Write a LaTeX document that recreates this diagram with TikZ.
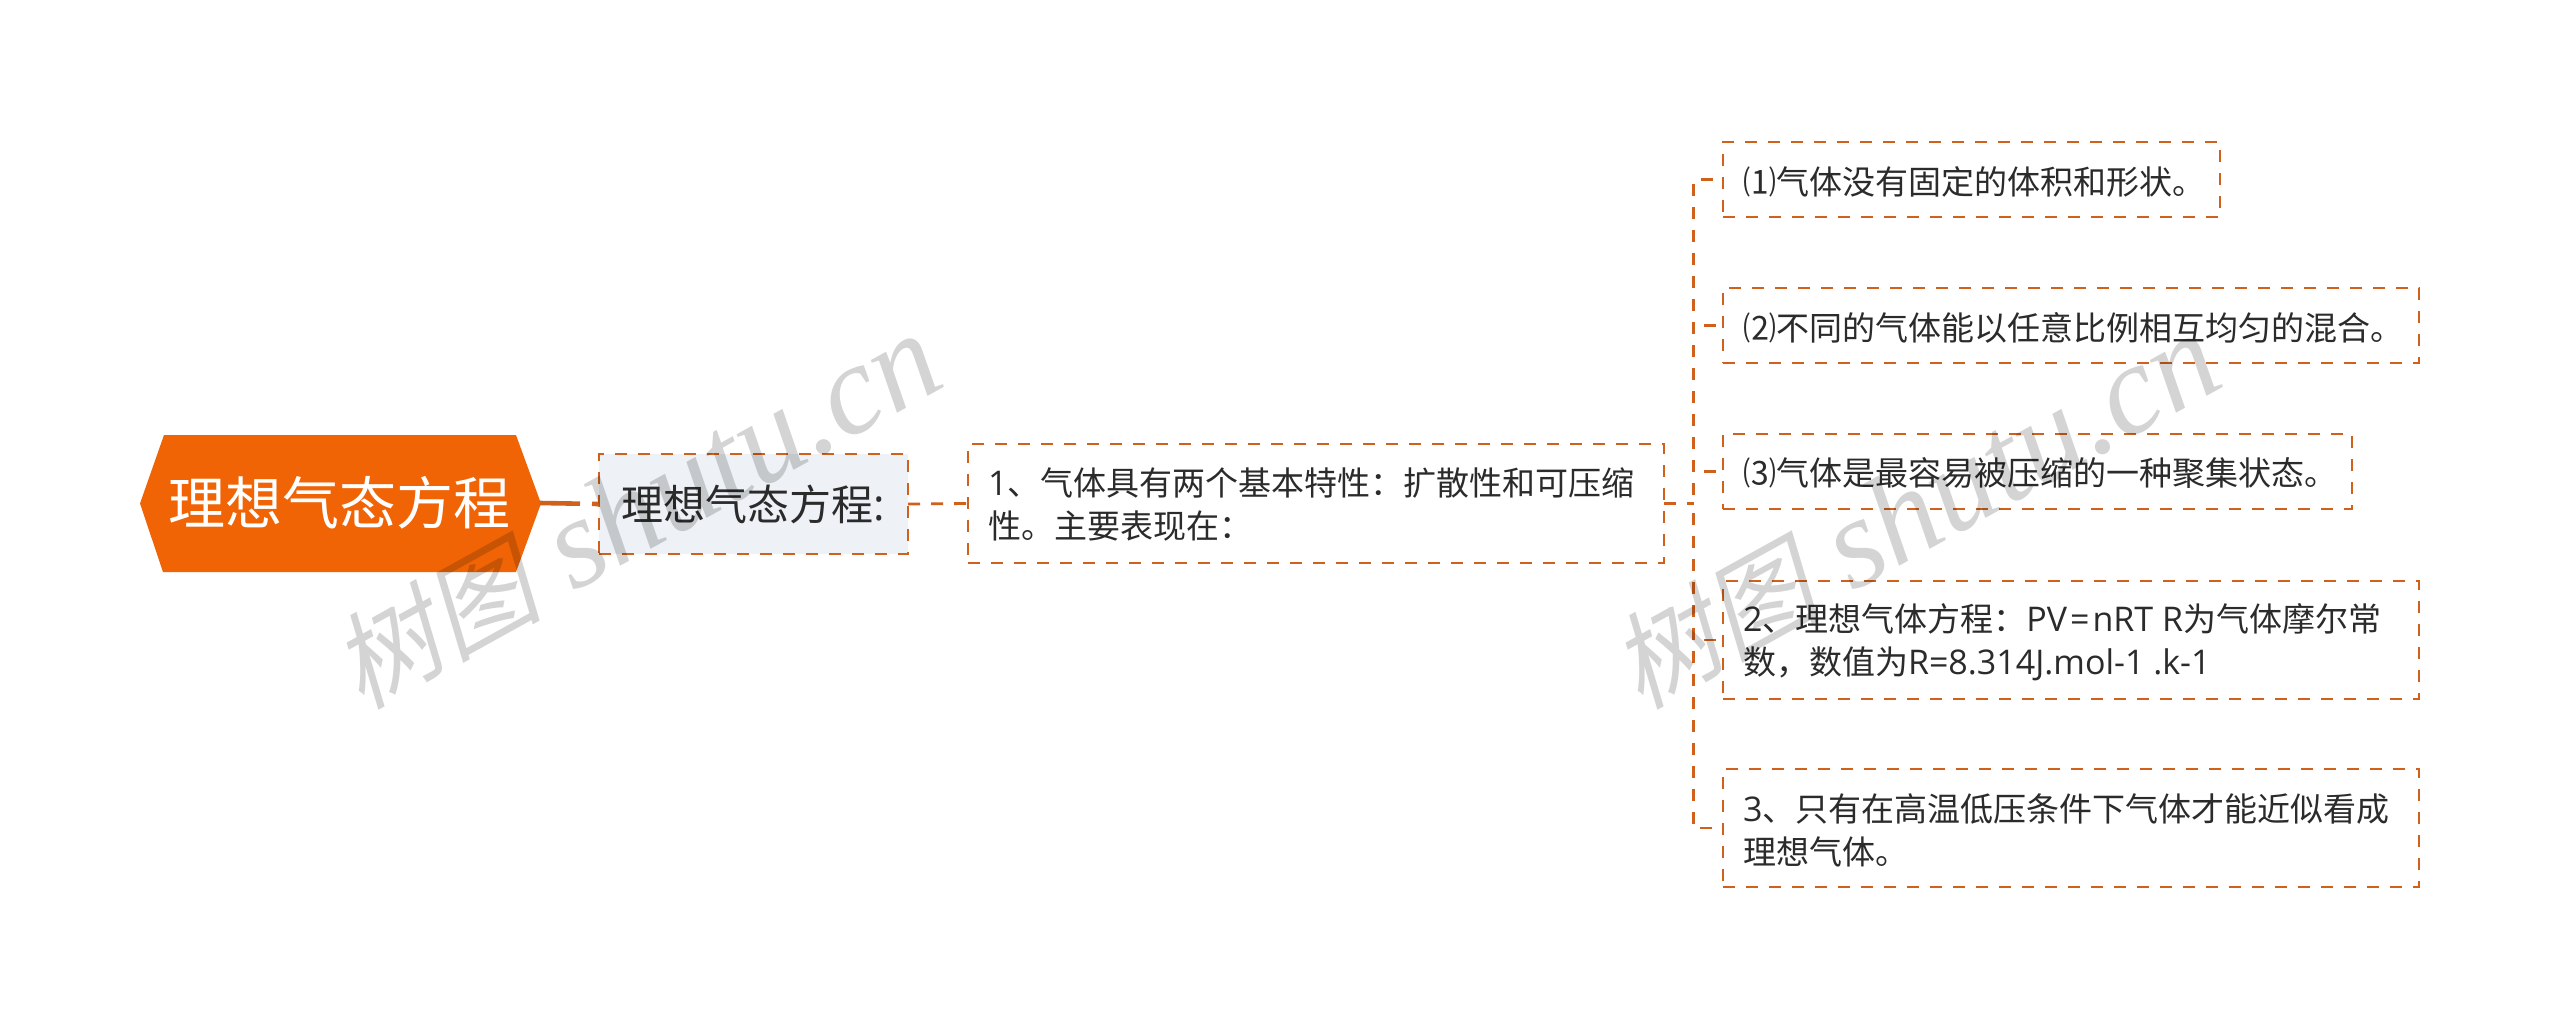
\documentclass[tikz,border=0pt]{standalone}
\usepackage{fontspec}
\setmainfont{Open Sans}[Scale=1.03]
\newfontfamily\zhfont{Noto Sans CJK SC}
\newfontfamily\wmzh[FakeSlant=0.22]{Noto Sans CJK SC}
\newfontfamily\wmlat{Liberation Serif}[ItalicFont={Liberation Serif Italic}]
\newcommand{\Z}[1]{{\zhfont #1}}
\newcommand{\Dn}[3]{\raisebox{#1}[\height][\depth]{\parbox[c]{#2}{\raggedright #3}}}
\definecolor{orangeA}{HTML}{F06405}
\definecolor{lineA}{HTML}{CF611C}
\definecolor{fillB}{HTML}{EEF1F5}
\definecolor{inkA}{HTML}{2B2B2B}
\tikzset{
  x=1pt,y=-1pt,
  dashbox/.style={draw=lineA,line width=2.8pt,dash pattern=on 12pt off 11pt,inner xsep=20pt,inner ysep=0pt,outer sep=0pt,text=inkA,font=\fontsize{33}{43}\selectfont},
  conn/.style={draw=lineA,line width=2.8pt,dash pattern=on 12pt off 11pt},
  stub/.style={draw=lineA,line width=2.8pt,dash pattern=on 0pt off 10pt on 12pt off 60pt},
  watermark/.style={rotate=29,text=black,opacity=0.17,inner sep=0pt}
}
\begin{document}
\begin{tikzpicture}
\useasboundingbox (0,0) rectangle (2560,1029);
\fill[white] (0,0) rectangle (2560,1029);
% root
\fill[orangeA] (140,503.5) -- (164,435) -- (516,435) -- (541,503.5) -- (516,572) -- (163,572) -- cycle;
\node[minimum width=401pt,minimum height=137pt,inner sep=0pt,outer sep=0pt,text=white,font=\fontsize{57}{60}\selectfont] (root) at (339.5,503) {\Z{理想气态方程}};
% level nodes
\node[dashbox,fill=fillB,minimum width=309pt,minimum height=100pt,inner xsep=0pt,align=center,font=\fontsize{42}{46}\selectfont] (sub) at (753.5,504) {\Z{理想气态方程}:};
\node[dashbox,minimum height=119pt] (main) at (1316,503.5) {\Dn{-1pt}{656pt}{1\Z{、气体具有两个基本特性：扩散性和可压缩}\\\Z{性。主要表现在：}}};
\node[dashbox,minimum height=75pt] (c1) at (1971.5,179.5) {\Dn{-2pt}{457pt}{\Z{⑴气体没有固定的体积和形状。}}};
\node[dashbox,minimum height=75pt] (c2) at (2071,325.5) {\Dn{-2pt}{656pt}{\Z{⑵不同的气体能以任意比例相互均匀的混合。}}};
\node[dashbox,minimum height=75pt] (c3) at (2037.5,471.5) {\Dn{-2pt}{589pt}{\Z{⑶气体是最容易被压缩的一种聚集状态。}}};
\node[dashbox,minimum height=118pt] (c4) at (2071,640) {\Dn{-2pt}{656pt}{2\Z{、理想气体方程：}PV\hspace{3pt}=\hspace{3pt}nRT R\Z{为气体摩尔常}\\\Z{数，数值为}R=8.314J.mol-1 .k-1}};
\node[dashbox,minimum height=118pt] (c5) at (2071,828) {\Dn{-2pt}{656pt}{3\Z{、只有在高温低压条件下气体才能近似看成}\\\Z{理想气体。}}};
% connectors
\draw[draw=lineA,line width=4.6pt,dash pattern=on 40pt off 12pt on 12pt off 20pt] (root.east) -- (sub.west);
\draw[conn,dash phase=0pt] (sub.east) -- (main.west);
\coordinate (j) at (1693.5,503.5);
\draw[conn] (main.east) -- (j);
\draw[conn,dash phase=14pt] (j) |- (c1.west);
\draw[conn,dash phase=14pt] (j) |- (c5.west);
\draw[stub] (j |- c2.west) -- (c2.west);
\draw[stub] (j |- c3.west) -- (c3.west);
\draw[stub] (j |- c4.west) -- (c4.west);
% watermarks
\node[watermark] (wm1) at (636,512) {\fontsize{105}{105}\selectfont\wmzh 树图\fontsize{128}{128}\selectfont\wmlat\itshape\ shutu.cn};
\node[watermark] (wm2) at (1915,512) {\fontsize{105}{105}\selectfont\wmzh 树图\fontsize{128}{128}\selectfont\wmlat\itshape\ shutu.cn};
\end{tikzpicture}
\end{document}
